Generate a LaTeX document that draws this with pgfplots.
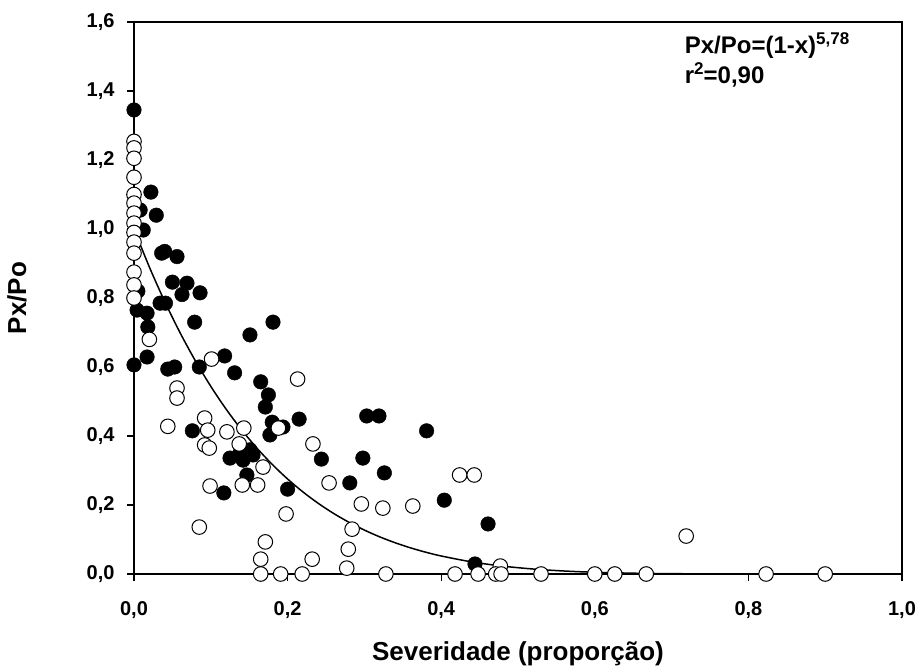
\documentclass[border=0pt]{standalone}
\usepackage{fontspec}
\setmainfont{Liberation Sans}
\usepackage{pgfplots}
\pgfplotsset{compat=1.18}
\begin{document}
\begin{tikzpicture}
\begin{axis}[
  at={(0,0)}, anchor=south west,
  scale only axis, width=768pt, height=552pt,
  xmin=0, xmax=1, ymin=0, ymax=1.6,
  xtick={0,0.2,0.4,0.6,0.8,1.0},
  ytick={0,0.2,0.4,0.6,0.8,1.0,1.2,1.4,1.6},
  tick align=outside, xtick pos=bottom, ytick pos=left,
  major tick length=7pt,
  axis line style={line width=1.4pt},
  every tick/.style={black, line width=1.4pt},
  /pgf/number format/.cd, fixed, fixed zerofill, precision=1, use comma, assume math mode=true,
  /pgfplots/.cd,
  tick label style={font=\bfseries\fontsize{20}{20}\selectfont},
  yticklabel style={xshift=-9pt},
  xticklabel style={yshift=-17pt},
  clip=false,
]
\addplot[black, line width=1.5pt, smooth] coordinates {
(0,1) (0.02,0.8898) (0.04,0.7898) (0.06,0.6993) (0.08,0.6176) (0.10,0.5439)
(0.12,0.4776) (0.14,0.4182) (0.16,0.3650) (0.18,0.3176) (0.20,0.2754)
(0.22,0.2378) (0.24,0.2047) (0.26,0.1754) (0.28,0.1498) (0.30,0.1273)
(0.32,0.1076) (0.34,0.0906) (0.36,0.0758) (0.38,0.0631) (0.40,0.0522)
(0.44,0.0350) (0.48,0.0228) (0.52,0.0144) (0.56,0.00869) (0.60,0.00501)
(0.65,0.00232) (0.70,0.00095) (0.75,0.00033)
};
\addplot[only marks, mark=*, mark size=7.3pt, mark options={fill=black, draw=black}] coordinates {
(0.0,1.345) (0.022,1.107) (0.008,1.055) (0.029,1.04) (0.012,0.997)
(0.036,0.93) (0.040,0.935) (0.056,0.92) (0.05,0.846) (0.069,0.843)
(0.0625,0.81) (0.086,0.815) (0.034,0.785) (0.041,0.785) (0.004,0.765)
(0.017,0.756) (0.018,0.716) (0.079,0.73) (0.005,0.82) (0.151,0.693)
(0.181,0.73) (0.118,0.632) (0.017,0.629) (0.0,0.606) (0.044,0.594)
(0.053,0.60) (0.085,0.60) (0.131,0.583) (0.165,0.557) (0.175,0.519)
(0.171,0.484) (0.180,0.44) (0.177,0.403) (0.194,0.426) (0.215,0.449)
(0.076,0.415) (0.125,0.336) (0.142,0.33) (0.151,0.36) (0.138,0.35)
(0.155,0.345) (0.147,0.287) (0.117,0.235) (0.2,0.246) (0.244,0.333)
(0.298,0.336) (0.303,0.458) (0.319,0.458) (0.326,0.293) (0.281,0.264)
(0.381,0.415) (0.404,0.214) (0.461,0.145) (0.444,0.029)
};
\addplot[only marks, mark=*, mark size=7.3pt, mark options={fill=white, draw=black, line width=1pt}] coordinates {
(0,1.254) (0,1.235) (0,1.205) (0,1.15) (0,1.10) (0,1.075) (0,1.046)
(0,1.017) (0,0.99) (0,0.962) (0,0.93) (0,0.875) (0,0.838) (0,0.80)
(0.02,0.68) (0.101,0.623) (0.213,0.565) (0.056,0.539) (0.056,0.51)
(0.044,0.428) (0.092,0.452) (0.096,0.417) (0.092,0.374) (0.098,0.365)
(0.121,0.412) (0.143,0.423) (0.137,0.377) (0.188,0.423) (0.168,0.31)
(0.233,0.377) (0.099,0.255) (0.141,0.258) (0.161,0.258) (0.198,0.174)
(0.085,0.136) (0.171,0.093) (0.165,0.043) (0.232,0.043) (0.165,0.0)
(0.191,0.0) (0.219,0.0) (0.254,0.264) (0.296,0.203) (0.324,0.191)
(0.363,0.197) (0.284,0.13) (0.279,0.072) (0.277,0.017) (0.328,0.0)
(0.424,0.287) (0.443,0.287) (0.418,0.0) (0.448,0.0) (0.477,0.023)
(0.471,0.0) (0.478,0.0) (0.530,0.0) (0.600,0.0) (0.626,0.0)
(0.667,0.0) (0.719,0.11) (0.823,0.0) (0.90,0.0)
};
\node[anchor=base west, inner sep=0pt, font=\bfseries\fontsize{24}{24}\selectfont] at (axis cs:0.717,1.51)
  {Px/Po=(1-x)\raisebox{9pt}{\fontsize{17}{17}\selectfont 5,78}};
\node[anchor=base west, inner sep=0pt, font=\bfseries\fontsize{24}{24}\selectfont] at (axis cs:0.717,1.423)
  {r\raisebox{9pt}{\fontsize{17}{17}\selectfont 2}=0,90};
\node[anchor=base, inner sep=0pt, font=\bfseries\fontsize{26}{26}\selectfont] at (axis cs:0.5,-0.2493)
  {Severidade (proporção)};
\node[anchor=center, rotate=90, inner sep=0pt, font=\bfseries\fontsize{26}{26}\selectfont] at (axis cs:-0.1523,0.8)
  {Px/Po};
\end{axis}
\pgfresetboundingbox
\path[use as bounding box] (-134pt,-93pt) rectangle (785pt,574pt);
\end{tikzpicture}
\end{document}
